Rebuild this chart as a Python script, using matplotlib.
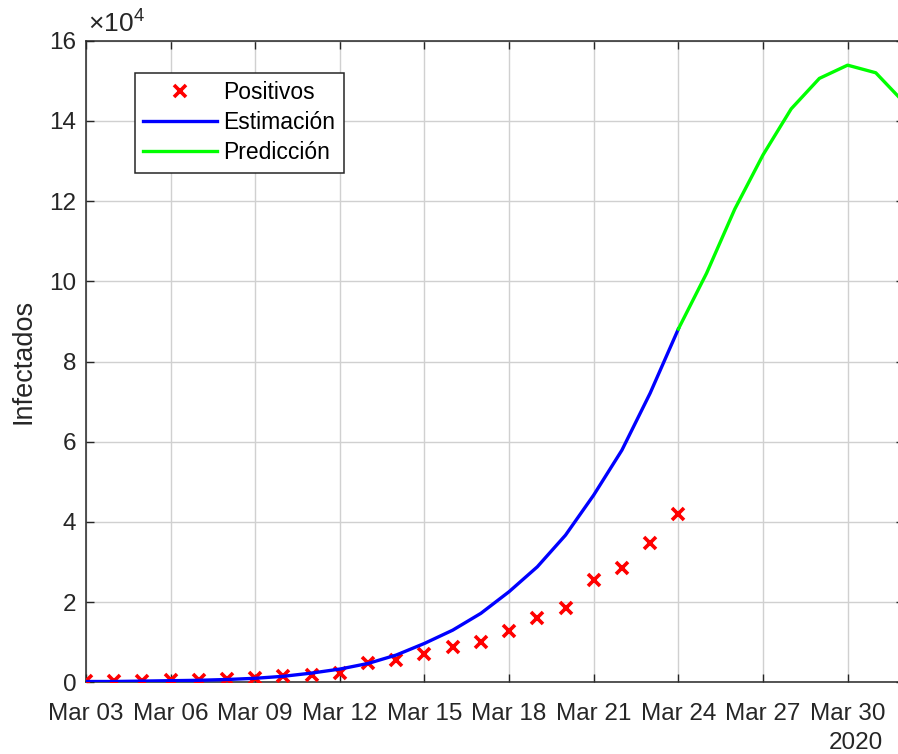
import numpy as np
import matplotlib
matplotlib.use("Agg")
import matplotlib.pyplot as plt
import matplotlib.dates as mdates

plt.rcParams['font.family'] = ['Liberation Sans', 'DejaVu Sans']
plt.rcParams['mathtext.fontset'] = 'custom'
plt.rcParams['mathtext.rm'] = 'Liberation Sans'

# fechas
dias_obs = np.arange(np.datetime64('2020-03-03'), np.datetime64('2020-03-25'))
dias_pred = np.arange(np.datetime64('2020-03-24'), np.datetime64('2020-04-02'))

# casos positivos (lectura del grafico)
positivos = [200, 200, 300, 500, 500, 700, 1100, 1600, 1800, 2300, 4900,
             5600, 7100, 8900, 10000, 12700, 16100, 18600, 25500, 28400,
             34800, 41900]
# modelo ajustado
estimacion = [200, 200, 300, 400, 500, 700, 1000, 1500, 2300, 3300, 4700,
              6800, 9700, 13000, 17200, 22600, 28800, 36700, 46700, 57900,
              72100, 88100]
# prediccion
prediccion = [88100, 102000, 118000, 131500, 143000, 150600, 153900,
              152000, 144600]

escala = 1e4

fig = plt.figure(figsize=(8.98, 7.54), dpi=100)
ax = fig.add_axes([86/898, 1 - 682.3/754, (904 - 86)/898, (682.3 - 40.7)/754])

ax.plot(dias_obs, np.array(positivos)/escala, 'x', color='red', ms=9, mew=2.6,
        label='Positivos', zorder=3)
ax.plot(dias_obs, np.array(estimacion)/escala, color='blue', lw=2.4,
        label='Estimación', zorder=4)
ax.plot(dias_pred, np.array(prediccion)/escala, color='#00ff00', lw=2.4,
        label='Predicción', zorder=4)

ax.set_xlim(np.datetime64('2020-03-03'), np.datetime64('2020-04-01'))
ax.set_ylim(0, 16)
ax.set_yticks(np.arange(0, 17, 2))
ax.xaxis.set_major_locator(mdates.DayLocator(bymonthday=[3, 6, 9, 12, 15, 18, 21, 24, 27, 30]))
ax.xaxis.set_major_formatter(mdates.DateFormatter('%b %d'))

ax.grid(True, color='#d0d0d0', lw=1)
ax.set_axisbelow(True)
for s in ax.spines.values():
    s.set_color('#262626')
    s.set_linewidth(1.1)
ax.tick_params(direction='in', top=True, right=True, length=6, width=1,
               colors='#262626', labelsize=17.5)
ax.tick_params(axis='x', pad=15)
ax.tick_params(axis='y', pad=7)
for lbl in ax.get_xticklabels() + ax.get_yticklabels():
    lbl.set_color('#262626')

ax.set_ylabel('Infectados', fontsize=19.5, color='#262626', labelpad=9)
ax.text(0.003, 1.006, r'$\times10^{4}$', transform=ax.transAxes,
        fontsize=19, color='#262626', ha='left', va='bottom')
ax.text(883/898, 1 - 743/754, '2020', transform=fig.transFigure,
        fontsize=17.5, color='#262626', ha='right', va='center')

leg = ax.legend(loc='upper left', bbox_to_anchor=(48.7/818, 1 - 32/641.6),
                fontsize=16.5, frameon=True, fancybox=False, framealpha=1,
                edgecolor='#262626', handlelength=3.2, handletextpad=0.3,
                borderpad=0.37, labelspacing=0.31, borderaxespad=0)
leg.get_frame().set_linewidth(1.1)

fig.savefig('out.png', dpi=100)
